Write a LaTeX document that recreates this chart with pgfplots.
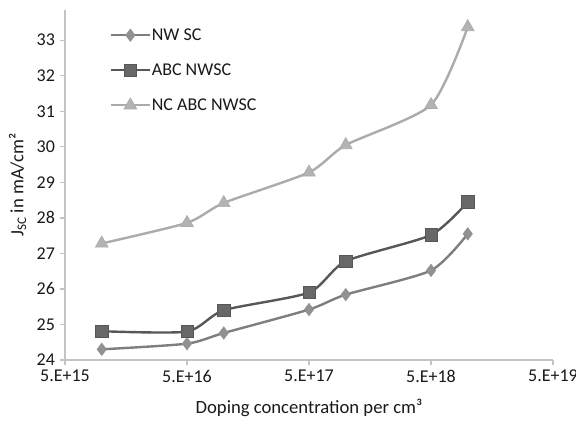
\documentclass[border=0pt]{standalone}
\usepackage{fontspec}
\setmainfont{Carlito}
\usepackage{pgfplots}
\pgfplotsset{compat=1.18}
\definecolor{cNW}{HTML}{7E7E7E}
\definecolor{cABC}{HTML}{575757}
\definecolor{cNC}{HTML}{ABABAB}
\definecolor{axgray}{HTML}{C4C4C4}
\newcommand{\chartfont}{\fontsize{13.5}{16}\selectfont}
\newcommand{\labelfont}{\fontsize{14}{16}\selectfont}
\begin{document}
\begin{tikzpicture}
\begin{axis}[
  at={(0,0)}, anchor=south west,
  scale only axis, width=366pt, height=262.5pt,
  xmode=log, xmin=5e15, xmax=5e19, ymin=24, ymax=33.85,
  xtick={5e15,5e16,5e17,5e18,5e19},
  xticklabels={5.E+15,5.E+16,5.E+17,5.E+18,5.E+19},
  xminorticks=false,
  ytick={24,25,26,27,28,29,30,31,32,33},
  axis x line*=bottom, axis y line*=left,
  axis line style={draw=axgray, line width=1pt, -},
  tick style={draw=axgray, line width=1pt},
  tick align=outside, major tick length=4pt,
  font=\chartfont,
  ticklabel style={font=\chartfont, text=black!90},
  /pgf/number format/assume math mode=true,
  xlabel={Doping concentration per cm³},
  ylabel={J\textsubscript{SC} in mA/cm²},
  xlabel style={at={(axis description cs:0.5,-0.137)}, anchor=center, font=\labelfont, text=black!90},
  ylabel style={at={(axis description cs:-0.0973,0.5)}, anchor=center, rotate=0, font=\labelfont, text=black!90},
  legend style={at={(axis description cs:0.092,0.952)}, anchor=north west, draw=none, fill=none,
    font=\chartfont, row sep=14pt, inner sep=0pt, nodes={inner sep=1pt, text=black!90}},
  legend cell align=left,
  legend image code/.code={\draw[mark repeat=2,mark phase=2,#1] plot coordinates {(0cm,0cm) (0.5cm,0cm) (1.0cm,0cm)};},
  every axis plot/.append style={line width=1.8pt, smooth, tension=0.4},
]
\addplot[color=cNW, mark=diamond*, mark size=4.6pt, mark options={fill=cNW!85!white, draw=cNW!85!white, line width=0.5pt}] coordinates {
(1e16,24.30) (5e16,24.46) (1e17,24.76) (5e17,25.42) (1e18,25.84) (5e18,26.52) (1e19,27.55)};
\addlegendentry{NW SC}
\addplot[color=cABC, mark=square*, mark size=4.6pt, mark options={fill=cABC!90!white, draw=cABC, line width=0.5pt}] coordinates {
(1e16,24.81) (5e16,24.80) (1e17,25.40) (5e17,25.90) (1e18,26.78) (5e18,27.52) (1e19,28.45)};
\addlegendentry{ABC NWSC}
\addplot[color=cNC, mark=triangle*, mark size=5.5pt, mark options={fill=cNC!90!white, draw=cNC, line width=0.5pt}] coordinates {
(1e16,27.28) (5e16,27.86) (1e17,28.42) (5e17,29.28) (1e18,30.05) (5e18,31.18) (1e19,33.37)};
\addlegendentry{NC ABC NWSC}
\end{axis}
\pgfresetboundingbox
\path (-48.75pt,-45.75pt) rectangle (383.25pt,270pt);
\end{tikzpicture}
\end{document}
